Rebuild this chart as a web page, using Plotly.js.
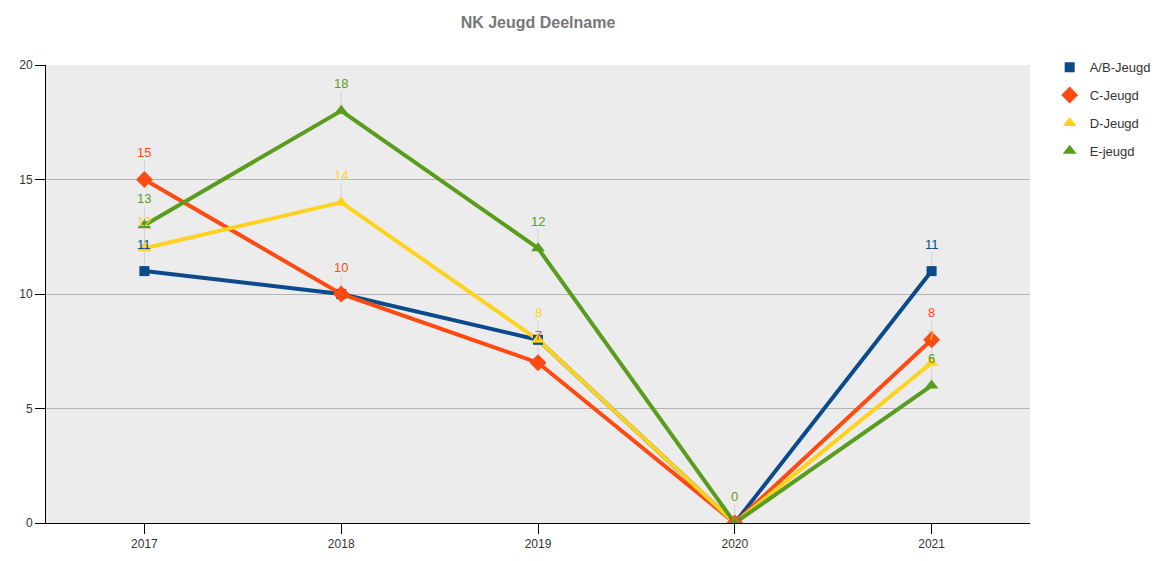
<!DOCTYPE html>
<html>
<head>
<meta charset="utf-8">
<script src="https://cdn.plot.ly/plotly-3.0.1.min.js"></script>
<style>html,body{margin:0;padding:0;background:#fff;}#chart{width:1153px;height:561px;}</style>
</head>
<body>
<div id="chart"></div>
<script>
const years = ['2017', '2018', '2019', '2020', '2021'];
const seriesNames = ['A/B-Jeugd', 'C-Jeugd', 'D-Jeugd', 'E-jeugd'];
const abJeugd = [11, 10, 8, 0, 11];
const cJeugd = [15, 10, 7, 0, 8];
const dJeugd = [12, 14, 8, 0, 7];
const eJeugd = [13, 18, 12, 0, 6];
const colors = ['#0b4a8b', '#fe4a13', '#ffd21f', '#5a9d1e'];
const symbols = ['square', 'diamond', 'triangle-up', 'triangle-up'];
const sizes = [10, 13, 12, 12];

const allValues = [abJeugd, cJeugd, dJeugd, eJeugd];
const traces = [];
allValues.forEach((vals, i) => {
  traces.push({
    x: years, y: vals, type: 'scatter', mode: 'lines',
    line: {color: colors[i], width: 4},
    showlegend: false, hoverinfo: 'skip'
  });
});
allValues.forEach((vals, i) => {
  traces.push({
    x: years, y: vals, type: 'scatter', mode: 'markers', name: seriesNames[i],
    marker: {color: colors[i], symbol: symbols[i], size: sizes[i]},
    legendgroup: 'g' + i, hoverinfo: 'skip'
  });
});

const annotations = [];
const shapes = [];
for (let i = 0; i < allValues.length; i++) {
  const vals = allValues[i];
  for (let j = 0; j < vals.length; j++) {
    const v = vals[j];
    let hidden = false;
    for (let k = i + 1; k < allValues.length; k++) if (allValues[k][j] === v) hidden = true;
    if (hidden) continue;
    annotations.push({
      x: j, y: v, xref: 'x', yref: 'y', text: String(v),
      showarrow: false, yshift: 27, yanchor: 'middle', xanchor: 'center',
      font: {size: 13, color: colors[i]}
    });
    shapes.push({
      type: 'line', xref: 'x', yref: 'y', x0: j, x1: j,
      ysizemode: 'pixel', yanchor: v, y0: 0, y1: 19,
      line: {color: '#d2d2d2', width: 1}, layer: 'between'
    });
  }
}

const layout = {
  width: 1153, height: 561,
  margin: {l: 46, r: 123, t: 65, b: 38, autoexpand: false},
  paper_bgcolor: '#ffffff', plot_bgcolor: '#ececec',
  font: {family: 'Liberation Sans, Arial, sans-serif', size: 12, color: '#333'},
  title: {text: '<b>NK Jeugd Deelname</b>', x: 0.5, xref: 'paper', xanchor: 'center', y: 0.96, yanchor: 'middle',
          font: {family: 'Liberation Sans, Arial, sans-serif', size: 16, color: '#777'}},
  xaxis: {type: 'category', range: [-0.5, 4.5], showline: true, linecolor: '#000', linewidth: 1,
          ticks: 'outside', ticklen: 10, tickcolor: '#000', showgrid: false, zeroline: false,
          tickfont: {size: 12, color: '#333'}},
  yaxis: {range: [0, 20], dtick: 5, showline: true, linecolor: '#000', linewidth: 1,
          ticks: 'outside', ticklen: 10, tickcolor: '#000', showgrid: true, gridcolor: '#b4b4b4',
          zeroline: false, tickfont: {size: 12, color: '#333'}},
  legend: {x: 1.02, xanchor: 'left', y: 1.028, yanchor: 'top', tracegroupgap: 8,
           font: {size: 13, color: '#333'}, bgcolor: 'rgba(0,0,0,0)'},
  annotations: annotations,
  shapes: shapes,
  hovermode: false
};

Plotly.newPlot('chart', traces, layout, {displayModeBar: false}).catch(function(e){
  document.body.insertAdjacentHTML('beforeend', '<pre>' + e + '</pre>');
});
</script>
</body>
</html>
